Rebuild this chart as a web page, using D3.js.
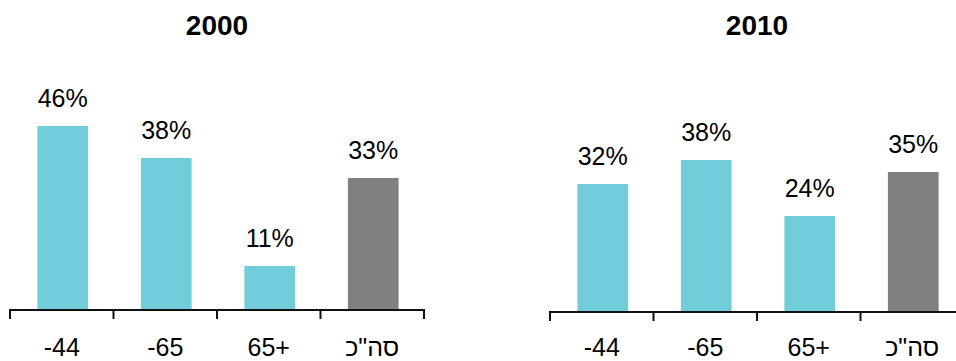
<!DOCTYPE html>
<html>
<head>
<meta charset="utf-8">
<script src="https://cdn.jsdelivr.net/npm/d3@7"></script>
<style>
  html, body { margin: 0; padding: 0; background: #fff; }
  svg { display: block; }
  text { font-family: "Liberation Sans", Arial, sans-serif; fill: #000; }
</style>
</head>
<body>
<svg id="chart" width="956" height="361"></svg>
<script>
const categories = ["-44", "-65", "65+", "סה\"כ"];
const titles = ["2000", "2010"];
const values2000 = [46, 38, 11, 33];
const values2010 = [32, 38, 24, 35];
const totalFlags = [false, false, false, true];

const svg = d3.select("#chart");
const panels = [
  { title: titles[0], values: values2000, x0: 10, x1: 424, base: 310 },
  { title: titles[1], values: values2010, x0: 550, x1: 964, base: 312 }
];

panels.forEach(p => {
  const g = svg.append("g");
  const x = d3.scaleBand().domain(categories).range([p.x0, p.x1]).paddingInner(0.51).paddingOuter(0.255);
  const y = d3.scaleLinear().domain([0, 50]).range([p.base, p.base - 200]);

  g.selectAll("rect.bar").data(p.values).join("rect")
    .attr("class", "bar")
    .attr("x", (d, i) => x(categories[i]) + 1)
    .attr("width", x.bandwidth())
    .attr("y", d => y(d))
    .attr("height", d => y(0) - y(d))
    .attr("fill", (d, i) => totalFlags[i] ? "#808080" : "#71CDDA");

  g.selectAll("text.val").data(p.values).join("text")
    .attr("class", "val")
    .attr("x", (d, i) => x(categories[i]) + 1 + x.bandwidth() / 2)
    .attr("y", d => y(d) - 19)
    .attr("text-anchor", "middle")
    .style("font-size", "25px")
    .text(d => d + "%");

  // axis line and boundary ticks
  const step = x.step();
  const bounds = d3.range(categories.length + 1).map(i => p.x0 + i * step);
  g.append("line")
    .attr("x1", p.x0).attr("x2", p.x1)
    .attr("y1", y(0)).attr("y2", y(0))
    .attr("stroke", "#111").attr("stroke-width", 2);
  g.selectAll("line.tick").data(bounds).join("line")
    .attr("class", "tick")
    .attr("x1", d => d).attr("x2", d => d)
    .attr("y1", y(0) - 1).attr("y2", y(0) + 9)
    .attr("stroke", "#111").attr("stroke-width", 2);

  g.selectAll("text.cat").data(categories).join("text")
    .attr("class", "cat")
    .attr("x", d => x(d) + x.bandwidth() / 2)
    .attr("y", 356)
    .attr("text-anchor", "middle")
    .style("font-size", "25px")
    .text(d => d);

  g.append("text")
    .attr("x", (p.x0 + p.x1) / 2)
    .attr("y", 35)
    .attr("text-anchor", "middle")
    .style("font-size", "28px")
    .style("font-weight", "bold")
    .text(p.title);
});
</script>
</body>
</html>
